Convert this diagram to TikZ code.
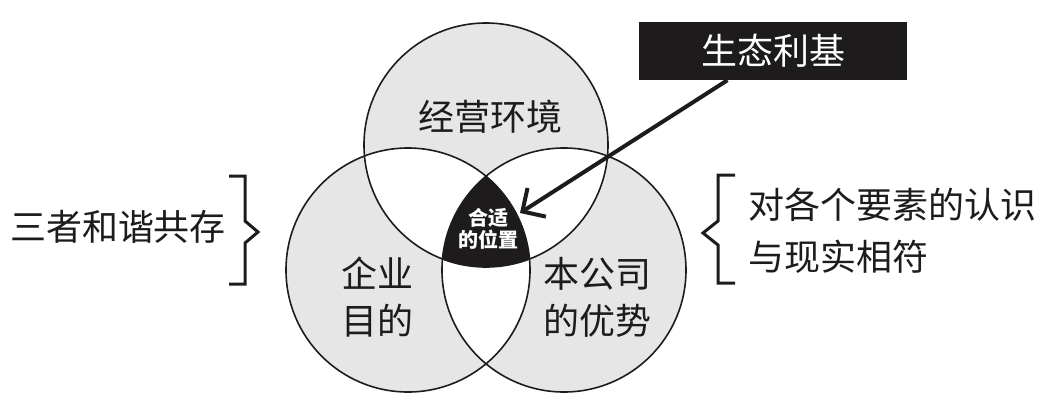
\documentclass[tikz,border=0pt]{standalone}
\usepackage{fontspec}
\newfontfamily\cjk{Noto Sans CJK SC}
\usetikzlibrary{arrows.meta}
\definecolor{vgray}{HTML}{E6E6E6}
\definecolor{ink}{HTML}{1E1B1C}
\tikzset{
  lbl/.style={font=\cjk\fontsize{36}{47}\selectfont, text=ink, align=center, inner sep=0pt},
  spotlbl/.style={font=\cjk\bfseries\fontsize{20}{22}\selectfont, text=white, align=center, inner sep=0pt},
  ecobox/.style={fill=ink, text=white, font=\cjk\fontsize{36}{44}\selectfont, minimum width=268pt, minimum height=58pt, inner sep=0pt},
  ring/.style={draw=ink, line width=1.6pt},
  bracel/.style={draw=ink, line width=3pt, miter limit=10},
  pointer/.style={draw=ink, line width=4pt, -{Straight Barb[length=17pt, width=34pt, line width=4pt]}},
}
\begin{document}
\begin{tikzpicture}[x=1pt, y=-1pt]
\useasboundingbox (0,0) rectangle (1058,402);
\coordinate (T) at (486,145);
\coordinate (L) at (408,270);
\coordinate (R) at (564,270);
% regions: one circle gray, two white, three black
\fill[vgray, even odd rule] (T) circle[radius=122pt] (L) circle[radius=122pt] (R) circle[radius=122pt];
\begin{scope}
  \clip (L) circle[radius=122pt];
  \clip (R) circle[radius=122pt];
  \fill[ink] (T) circle[radius=122pt];
\end{scope}
\draw[ring] (T) circle[radius=122pt];
\draw[ring] (L) circle[radius=122pt];
\draw[ring] (R) circle[radius=122pt];
% labels
\node[lbl] (env) at (490,117) {经营环境};
\node[lbl] (goal) at (377,297) {企业\\目的};
\node[lbl] (adv) at (597,297) {本公司\\的优势};
\node[spotlbl] (spot) at (488,229) {合适\\的位置};
% callout
\node[ecobox] (eco) at (773,51) {生态利基};
\coordinate (tip) at (520,213);
\draw[pointer] (eco) -- (tip);
% left brace and text
\draw[bracel] (229,176) -- (245,176) -- (245,221) -- (258,232) -- (245,243) -- (245,284) -- (229,284);
\node[lbl] (harm) at (118,227) {三者和谐共存};
% right brace and text
\draw[bracel] (735,175) -- (718,175) -- (718,221) -- (703,233) -- (718,245) -- (718,283) -- (735,283);
\node[lbl, align=left, anchor=west, font=\cjk\fontsize{36}{52}\selectfont] (know) at (748,231) {对各个要素的认识\\与现实相符};
\end{tikzpicture}
\end{document}
